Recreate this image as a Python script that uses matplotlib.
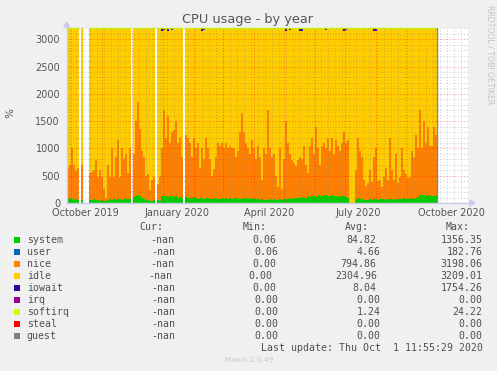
import numpy as np
import matplotlib
matplotlib.use("Agg")
import matplotlib.pyplot as plt
import matplotlib.dates as mdates
from matplotlib.patches import Rectangle, Polygon

W, H = 497, 371
nan = float("nan")

# ---------------- data ----------------
start_date = "2019-09-27"
step_days = 2

system = [
    80, 90, 70, 60, 70, 60,
    nan,
    50,
    nan, nan, nan,
    50, 60, 70, 50, 50, 40, 60, 40, 40, 60, 70, 50, 70, 60, 80, 70, 60, 70, 80, 80, 70,
    nan,
    110, 130, 140, 130, 100, 80, 60, 50, 40, 40, 50,
    nan,
    50, 40, 120, 130, 130, 110, 120, 120, 110, 120, 100, 110, 100,
    nan,
    110, 100, 90, 100, 110, 90, 80, 100, 90, 80,
    90, 90, 80, 70, 90, 80, 70, 80, 90, 80,
    90, 80, 90, 80, 90, 100, 90, 80, 80, 90,
    100, 90, 80, 90, 80,
    70, 80, 60, 70, 60, 50, 60, 70, 60, 70,
    50, 60, 70, 60, 80, 70, 80, 90, 80, 90,
    100, 90, 100, 110, 90, 100, 120, 110, 130, 120,
    110, 140, 130, 120, 140, 150, 130, 120, 140, 130,
    120, 110, 120, 130, 120, 110, 100,
    0, 0, 0,
    60, 90, 80, 70, 60, 50, 60, 70, 60, 70,
    80, 60, 70, 80, 70, 60, 70, 80, 70, 60,
    70, 80, 70, 80, 90, 80, 70, 80, 90, 80,
    100, 110, 150, 140, 150, 130, 140, 130, 120, 130,
    140,
]

# upper edge of the orange "nice" band (system + nice)
nice_top = [
    640, 700, 1000, 700, 580, 640,
    nan,
    700,
    nan, nan, nan,
    550, 560, 600, 790, 480, 600, 470, 250, 100, 700, 480, 1000, 480, 850, 1150, 480, 1000, 800, 900, 550, 1000,
    nan,
    900, 1500, 1850, 1350, 950, 850, 500, 540, 240, 420, 480,
    nan,
    350, 480, 1000, 1700, 1200, 1600, 1100, 1300, 1330, 1500, 1100, 1200, 850,
    nan,
    1250, 1200, 1100, 850, 1200, 1000, 1100, 650, 1000, 800,
    1200, 1000, 800, 500, 620, 850, 1100, 1050, 1100, 1000,
    1100, 1000, 1050, 1000, 1000, 850, 950, 1300, 1650, 1300,
    1100, 1000, 900, 1150, 1000,
    800, 1050, 850, 420, 1000, 900, 1700, 1000, 850, 900,
    500, 300, 1000, 250, 800, 1500, 1100, 900, 780, 730,
    680, 780, 850, 800, 1050, 700, 550, 1050, 1200, 900,
    1400, 1000, 700, 1050, 1100, 1000, 1200, 950, 1200, 900,
    1150, 1050, 950, 1100, 1300, 1100, 1150,
    0, 0, 0,
    600, 1200, 950, 850, 420, 320, 360, 600, 380, 850,
    1000, 400, 420, 300, 480, 650, 420, 1200, 600, 420,
    900, 360, 480, 1000, 600, 540, 450, 480, 950, 850,
    1250, 1000, 1700, 1000, 1500, 1100, 1400, 1050, 1050, 1400,
    1250,
]

iowait_idx = [47, 48, 50, 52, 67, 68, 109, 111, 116, 117, 129, 138, 139, 153, 154]
iowait_val = [40, 30, 40, 30, 40, 30, 40, 30, 40, 40, 30, 40, 30, 40, 40]

cpu_total = 3200
last_update = "2020-10-01T11:55"

y_ticks = [0, 500, 1000, 1500, 2000, 2500, 3000]
x_labels = ["October 2019", "January 2020", "April 2020", "July 2020", "October 2020"]
x_label_dates = ["2019-10-16", "2020-01-15", "2020-04-16", "2020-07-15", "2020-10-16"]

legend_names = ["system", "user", "nice", "idle", "iowait", "irq", "softirq", "steal", "guest"]
legend_colors = ["#00CC00", "#0066B3", "#FF8000", "#FFCC00", "#330099",
                 "#990099", "#CCFF00", "#FF0000", "#808080"]
cur_vals = ["-nan"] * 9
min_vals = ["0.06", "0.06", "0.00", "0.00", "0.00", "0.00", "0.00", "0.00", "0.00"]
avg_vals = ["84.82", "4.66", "794.86", "2304.96", "8.04", "0.00", "1.24", "0.00", "0.00"]
max_vals = ["1356.35", "182.76", "3198.06", "3209.01", "1754.26", "0.00", "24.22", "0.00", "0.00"]

# ---------------- figure ----------------
def fx(px):
    return px / W

def fy(py):
    return 1 - py / H

TXT = "#555555"
fig = plt.figure(figsize=(W / 100, H / 100), dpi=100, facecolor="#F0F0F0")
AX_L, AX_R, AX_T, AX_B = 66.7, 468.0, 28.0, 203.0
ax = fig.add_axes([fx(AX_L), fy(AX_B), fx(AX_R) - fx(AX_L), fy(AX_T) - fy(AX_B)])
ax.set_facecolor("white")

t0 = mdates.date2num(np.datetime64(start_date))
n = len(system)
xs = t0 + step_days * np.arange(n)
sys_a = np.array(system, float)
nice_a = np.array(nice_top, float) - sys_a
io_a = np.zeros(n)
io_a[iowait_idx] = iowait_val
io_a[np.isnan(sys_a)] = np.nan
idle_a = cpu_total - sys_a - nice_a - io_a

bottom = np.zeros(n)
for vals, col in [(sys_a, legend_colors[0]), (nice_a, legend_colors[2]),
                  (idle_a, legend_colors[3]), (io_a, legend_colors[4])]:
    ax.bar(xs, vals, width=step_days, bottom=bottom, align="edge", color=col,
           linewidth=0, antialiased=False, zorder=1)
    bottom = bottom + vals

valid = ~np.isnan(sys_a)
ax.hlines(np.full(valid.sum(), cpu_total), xs[valid], xs[valid] + step_days,
          color=legend_colors[6], lw=1.0, zorder=2, clip_on=False)

x_left = mdates.date2num(np.datetime64("2019-09-27T00:00"))
x_right = x_left + (AX_R - AX_L)
ax.set_xlim(x_left, x_right)
ax.set_ylim(0, 3207)

# grid
dot = (0, (1, 2))
for v in range(100, 3201, 100):
    if v % 500 == 0:
        ax.axhline(v, color=(1, 0, 0, 0.45), lw=0.7, ls=dot, zorder=3)
    else:
        ax.axhline(v, color=(0.5, 0.5, 0.5, 0.4), lw=0.7, ls=dot, zorder=3)
sundays = np.arange(np.datetime64("2019-09-29"), np.datetime64("2020-11-02"), 7)
for d in sundays:
    ax.axvline(mdates.date2num(d), color=(0.5, 0.5, 0.5, 0.4), lw=0.7, ls=dot, zorder=3)
months = np.arange(np.datetime64("2019-10"), np.datetime64("2020-12"), 1).astype("datetime64[D]")
for d in months:
    ax.axvline(mdates.date2num(d), color=(1, 0, 0, 0.4), lw=0.7, ls=dot, zorder=3)

ax.axvline(mdates.date2num(np.datetime64(last_update)), color="#888888", lw=1.0, zorder=4)

for s in ax.spines.values():
    s.set_visible(False)

ax.set_yticks(y_ticks)
ax.set_yticklabels([str(v) for v in y_ticks])
ax.tick_params(axis="y", length=0, pad=4.8, labelsize=7, labelcolor=TXT)
ax.set_xticks([mdates.date2num(np.datetime64(d)) for d in x_label_dates])
ax.set_xticklabels(x_labels)
ax.tick_params(axis="x", length=0, pad=3.9, labelsize=7, labelcolor=TXT)

# axis lines with arrows
AXC = "#C8C8F0"
fig.add_artist(plt.Line2D([fx(AX_L), fx(471)], [fy(AX_B), fy(AX_B)], color=AXC, lw=1))
fig.add_artist(plt.Line2D([fx(AX_L), fx(AX_L)], [fy(AX_B), fy(25)], color=AXC, lw=1))
fig.add_artist(Polygon([[fx(470), fy(200)], [fx(470), fy(206)], [fx(475), fy(203)]],
                       closed=True, transform=fig.transFigure, color=AXC))
fig.add_artist(Polygon([[fx(63.7), fy(27)], [fx(69.7), fy(27)], [fx(66.7), fy(22)]],
                       closed=True, transform=fig.transFigure, color=AXC))

# titles
fig.text(fx(248), fy(19.5), "CPU usage - by year", ha="center", va="center",
         fontsize=9.3, color=TXT)
fig.text(fx(10), fy(113), "%", ha="center", va="center", rotation=90, fontsize=7.5, color=TXT)
fig.text(fx(490), fy(5), "RRDTOOL / TOBI OETIKER", ha="center", va="top", rotation=270,
         fontsize=5.6, color="#C4C4C4")

# legend
MONO = "DejaVu Sans Mono"
FS = 7.1
LC = "#505050"
header_y = 227.3
for lab, xr in [("Cur:", 163.3), ("Min:", 266.7), ("Avg:", 369.3), ("Max:", 470.0)]:
    fig.text(fx(xr), fy(header_y), lab, ha="right", va="center", family=MONO, fontsize=FS, color=LC)

cur_x = [174.3, 175.7, 174.3, 172.7, 175.7, 175.7, 175.7, 175.7, 175.7]
min_x = [276.0, 278.7, 276.0, 272.7, 276.0, 278.7, 278.7, 278.7, 278.7]
avg_x = [376.0, 380.7, 376.0, 377.7, 376.0, 380.7, 380.7, 380.7, 380.7]
max_x = [482.7] * 9
for i, name in enumerate(legend_names):
    y = 239.7 + 12 * i
    fig.add_artist(Rectangle((fx(14), fy(y + 3)), 6 / W, 6 / H, transform=fig.transFigure,
                             color=legend_colors[i], lw=0))
    fig.text(fx(26.7), fy(y), name, ha="left", va="center", family=MONO, fontsize=FS, color=LC)
    fig.text(fx(cur_x[i]), fy(y), cur_vals[i], ha="right", va="center", family=MONO, fontsize=FS, color=LC)
    fig.text(fx(min_x[i]), fy(y), min_vals[i], ha="right", va="center", family=MONO, fontsize=FS, color=LC)
    fig.text(fx(avg_x[i]), fy(y), avg_vals[i], ha="right", va="center", family=MONO, fontsize=FS, color=LC)
    fig.text(fx(max_x[i]), fy(y), max_vals[i], ha="right", va="center", family=MONO, fontsize=FS, color=LC)

fig.text(fx(482.7), fy(347.7), "Last update: Thu Oct  1 11:55:29 2020", ha="right", va="center",
         family=MONO, fontsize=FS, color=LC)
fig.text(fx(248.7), fy(360), "Munin 2.0.49", ha="center", va="center", fontsize=5.3, color="#C8C8C8")

fig.savefig("out.png", dpi=100, facecolor=fig.get_facecolor())
